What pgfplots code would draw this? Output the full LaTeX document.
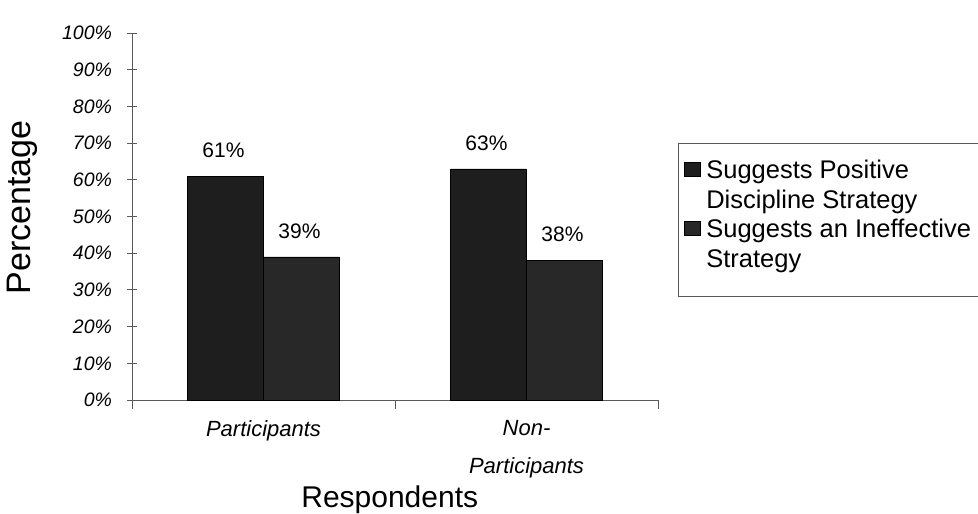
\documentclass[border=0pt]{standalone}
\usepackage{pgfplots}
\pgfplotsset{compat=1.18}
\usepackage{fontspec}
\setmainfont{Liberation Sans}

\definecolor{barA}{RGB}{30,30,30}
\definecolor{barB}{RGB}{40,40,40}
\definecolor{axisgray}{RGB}{90,90,90}

\begin{document}
\begin{tikzpicture}
\useasboundingbox (0,0) rectangle (978pt,514pt);
\begin{axis}[
    at={(132pt,114pt)}, anchor=south west,
    scale only axis,
    width=526pt, height=367pt,
    ybar=0pt, bar width=76pt,
    xmin=0.5, xmax=2.5,
    ymin=0, ymax=100,
    axis lines=left,
    axis line style={-, draw=axisgray, line width=0.9pt},
    tick style={draw=axisgray, line width=0.9pt},
    xtick align=outside,
    ytick align=center,
    major tick length=9pt,
    ytick={0,10,...,100},
    yticklabel={\pgfmathprintnumber{\tick}\%},
    yticklabel style={font=\fontsize{19.5}{22}\selectfont\itshape, xshift=-12pt},
    /pgf/number format/assume math mode=true,
    xtick={0.5,1.5,2.5},
    xticklabels={,,},
    extra x ticks={1,2},
    extra x tick labels={Participants,{Non-\\Participants}},
    extra x tick style={major tick length=0pt,
        xticklabel style={font=\fontsize{22}{38}\selectfont\itshape, align=center, yshift=-17pt}},
    ylabel={Percentage},
    ylabel style={at={(axis description cs:-0.208,0.525)}, anchor=center, rotate=0,
        font=\fontsize{34}{38}\selectfont},
    xlabel={Respondents},
    xlabel style={at={(axis description cs:0.490,-0.272)}, anchor=center,
        font=\fontsize{30}{36}\selectfont},
    nodes near coords={\pgfmathprintnumber{\pgfplotspointmeta}\%},
    nodes near coords style={font=\fontsize{21}{24}\selectfont, yshift=15pt, xshift=-2pt},
    legend style={at={(1.038,0.700)}, anchor=north west,
        draw=axisgray, line width=0.9pt,
        font=\fontsize{25.5}{30}\selectfont,
        cells={anchor=west, align=left},
        column sep=3pt,
        inner xsep=6pt, inner ysep=14pt, row sep=5pt},
    legend image code/.code={\fill[#1] (0pt,8pt) rectangle (16pt,22pt);},
    clip=false,
]
% Suggests Positive Discipline Strategy
\addplot[fill=barA, draw=black] coordinates {(1,61) (2,63)};
% Suggests an Ineffective Strategy
\addplot[fill=barB, draw=black] coordinates {(1,39) (2,38)};
% spacer row at the foot of the legend box
\addlegendimage{empty legend}
\legend{Suggests Positive\\Discipline Strategy, Suggests an Ineffective\\Strategy, \rule{0pt}{1pt}}
\end{axis}
\end{tikzpicture}
\end{document}
